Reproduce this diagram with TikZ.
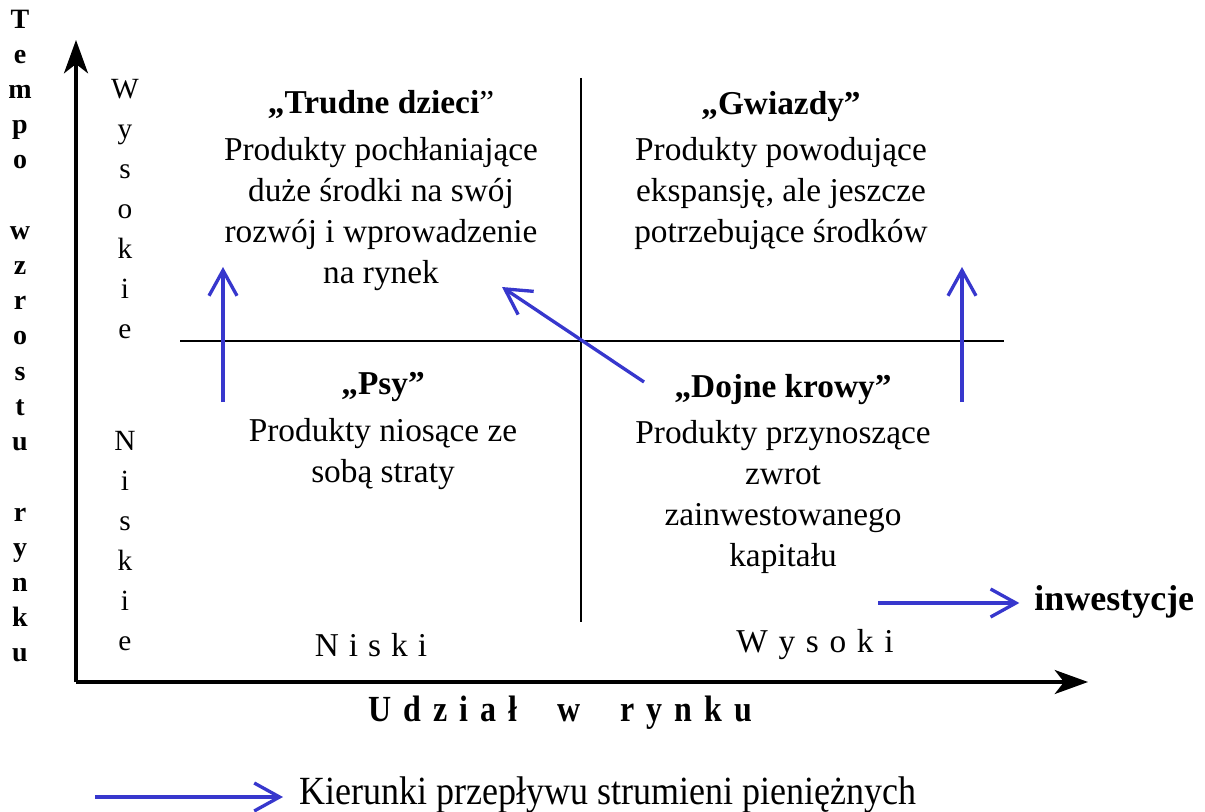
\documentclass[tikz,border=0pt]{standalone}
\usepackage{fontspec}
\setmainfont{Liberation Serif}
\usetikzlibrary{arrows.meta}
\definecolor{flow}{RGB}{55,55,205}
\begin{document}
\begin{tikzpicture}[x=0.75pt,y=-0.75pt,
  axis/.style={line width=2.4pt,-{Stealth[length=25pt,width=18pt,inset=7pt]}},
  divider/.style={line width=1.6pt},
  flowarrow/.style={draw=flow,line width=2.5pt,-{Straight Barb[length=19pt,width=21pt]}},
  quad/.style={align=center,inner sep=0pt,font=\fontsize{25}{30.75}\selectfont},
  column/.style={align=center,inner sep=0pt,font=\fontsize{22}{30}\selectfont},
  boldcolumn/.style={align=center,inner sep=0pt,font=\fontsize{21}{26.4}\selectfont\bfseries},
  level/.style={inner sep=0pt,font=\fontsize{25}{30}\selectfont}
]
\useasboundingbox (0,0) rectangle (1205,812);

% axes
\coordinate (O) at (76,682);
\coordinate (ytip) at (76,40);
\coordinate (xtip) at (1088,682);
\draw[axis] (O) -- (ytip);
\draw[axis] (O) -- (xtip);

% quadrant dividers
\coordinate (vtop) at (581,78);
\coordinate (vbot) at (581,622);
\coordinate (hleft) at (180,341);
\coordinate (hright) at (1004,341);
\draw[divider] (vtop) -- (vbot);
\draw[divider] (hleft) -- (hright);

% quadrant descriptions
\node[quad] (trudne) at (381,190.5) {\textbf{„Trudne dzieci}”\\[4pt]Produkty pochłaniające\\duże środki na swój\\rozwój i wprowadzenie\\na rynek};
\node[quad] (gwiazdy) at (781,170.5) {\textbf{„Gwiazdy”}\\[4pt]Produkty powodujące\\ekspansję, ale jeszcze\\potrzebujące środków};
\node[quad] (psy) at (383,431) {\textbf{„Psy”}\\[4pt]Produkty niosące ze\\sobą straty};
\node[quad] (dojne) at (783,474) {\textbf{„Dojne krowy”}\\[4pt]Produkty przynoszące\\zwrot\\zainwestowanego\\kapitału};

% axis titles and levels
\node[boldcolumn] (tempo) at (20,336) {T\\e\\m\\p\\o\\[26.4pt]w\\z\\r\\o\\s\\t\\u\\[26.4pt]r\\y\\n\\k\\u};
\node[column] (wysokie) at (125,209) {W\\y\\s\\o\\k\\i\\e};
\node[column] (niskie) at (125,541) {N\\i\\s\\k\\i\\e};
\node[level] (niskiX) at (371,645) {N\hspace{7.5pt}i\hspace{7.5pt}s\hspace{7.5pt}k\hspace{7.5pt}i};
\node[level] (wysokiX) at (815,645) {W\hspace{8pt}y\hspace{8pt}s\hspace{8pt}o\hspace{8pt}k\hspace{8pt}i};
\node[inner sep=0pt,font=\fontsize{24}{28}\selectfont\bfseries] (udzial) at (560,713)
  {\scalebox{1}[1.15]{U\hspace{9pt}d\hspace{9pt}z\hspace{9pt}i\hspace{9pt}a\hspace{9pt}ł\hspace{30pt}w\hspace{30pt}r\hspace{9pt}y\hspace{9pt}n\hspace{9pt}k\hspace{9pt}u}};

% flows of cash
\coordinate (dzLow) at (223,402);
\coordinate (dzHigh) at (223,267);
\coordinate (gwLow) at (962,402);
\coordinate (gwHigh) at (962,267);
\coordinate (krTail) at (644,382);
\coordinate (krTip) at (502,287);
\draw[flowarrow] (dzLow) -- (dzHigh);
\draw[flowarrow] (gwLow) -- (gwHigh);
\draw[flowarrow] (krTail) -- (krTip);

% investment marker
\node[anchor=west,inner sep=0pt,font=\fontsize{27}{30}\selectfont\bfseries] (inwest) at (1034,602) {inwestycje};
\coordinate (invTail) at (878,603);
\draw[flowarrow] (invTail) -- ([xshift=-11pt]inwest.west |- invTail);

% legend
\node[anchor=west,inner sep=0pt,font=\fontsize{30}{34}\selectfont] (legend) at (299,795)
  {\scalebox{0.9}[1]{Kierunki przepływu strumieni pieniężnych}};
\coordinate (legTail) at (95,797);
\draw[flowarrow] (legTail) -- ([xshift=-12pt]legend.west |- legTail);
\end{tikzpicture}
\end{document}
